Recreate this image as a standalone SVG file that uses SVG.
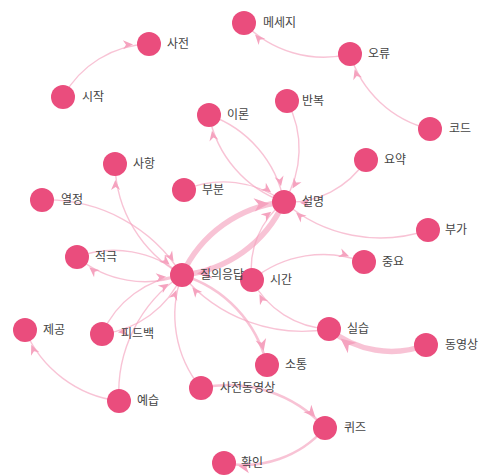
<svg xmlns="http://www.w3.org/2000/svg" width="484" height="476" viewBox="0 0 484 476">
  <style>
    .link { fill: none; stroke: #F4A3BE; stroke-opacity: 0.65; stroke-width: 1.4; marker-end: url(#arr); }
    .mid { stroke-width: 2.6; marker-end: url(#arrM); }
    .thick { stroke-width: 5.5; marker-end: url(#arrL); }
    .node circle { fill: #EA4D7D; r: 12px; }
    .node text { font-family: "Noto Sans CJK KR", "Noto Sans", sans-serif; font-size: 12px; fill: #444; }
  </style>
  <defs>
    <marker id="arr" viewBox="0 -5 10 10" refX="26" refY="0" markerWidth="10" markerHeight="10" markerUnits="userSpaceOnUse" orient="auto" overflow="visible">
      <path d="M0,-4.5 L10,0 L0,4.5 L3,0 Z" fill="#F5A3BF"/>
    </marker>
    <marker id="arrM" viewBox="0 -5 10 10" refX="22" refY="0" markerWidth="12" markerHeight="12" markerUnits="userSpaceOnUse" orient="auto" overflow="visible">
      <path d="M0,-4.5 L10,0 L0,4.5 L3,0 Z" fill="#F5A3BF"/>
    </marker>
    <marker id="arrL" viewBox="0 -5 10 10" refX="20" refY="0" markerWidth="15" markerHeight="15" markerUnits="userSpaceOnUse" orient="auto" overflow="visible">
      <path d="M0,-4.5 L10,0 L0,4.5 L3,0 Z" fill="#F5A3BF"/>
    </marker>
  </defs>

  <!-- connectors: arcs drawn centre to centre, radius = chord length -->
  <g id="links">
    <path class="link" d="M63,97 A101,101 0 0,1 149,44"/>
    <path class="link" d="M350,54 A110,110 0 0,1 244,23"/>
    <path class="link" d="M430,129 A110,110 0 0,1 350,54"/>
    <path class="link" d="M209,115 A115,115 0 0,1 284,202"/>
    <path class="link" d="M284,202 A115,115 0 0,1 209,115"/>
    <path class="link" d="M287,101 A101,101 0 0,1 284,202"/>
    <path class="link" d="M184,190 A101,101 0 0,1 284,202"/>
    <path class="link" d="M366,160 A92,92 0 0,1 284,202"/>
    <path class="link" d="M428,230 A147,147 0 0,1 284,202"/>
    <path class="link thick" d="M182,275 A125,125 0 0,1 284,202"/>
    <path class="link thick" d="M284,202 A125,125 0 0,1 182,275"/>
    <path class="link" d="M252,280 A84,84 0 0,1 284,202"/>
    <path class="link" d="M252,280 A113,113 0 0,1 364,262"/>
    <path class="link" d="M329,329 A91,91 0 0,1 252,280"/>
    <path class="link" d="M329,329 A157,157 0 0,1 182,275"/>
    <path class="link thick" d="M426,345 A98,98 0 0,1 329,329"/>
    <path class="link mid" d="M182,275 A124,124 0 0,1 267,365"/>
    <path class="link" d="M201,388 A115,115 0 0,1 182,275"/>
    <path class="link" d="M119,401 A141,141 0 0,1 182,275"/>
    <path class="link" d="M102,334 A99,99 0 0,1 182,275"/>
    <path class="link" d="M182,275 A99,99 0 0,1 102,334"/>
    <path class="link" d="M119,401 A118,118 0 0,1 25,330"/>
    <path class="link mid" d="M201,388 A130,130 0 0,1 325,428"/>
    <path class="link mid" d="M325,428 A107,107 0 0,1 224,463"/>
    <path class="link" d="M42,200 A159,159 0 0,1 182,275"/>
    <path class="link" d="M182,275 A130,130 0 0,1 115,164"/>
    <path class="link" d="M77,257 A106,106 0 0,1 182,275"/>
    <path class="link" d="M182,275 A106,106 0 0,1 77,257"/>
  </g>

  <g id="node-sajeon" class="node"><circle cx="149" cy="44"/><text x="167" y="48">사전</text></g>
  <g id="node-sijak" class="node"><circle cx="63" cy="97"/><text x="82" y="101">시작</text></g>
  <g id="node-mesaeji" class="node"><circle cx="244" cy="23"/><text x="263" y="27">메세지</text></g>
  <g id="node-oryu" class="node"><circle cx="350" cy="54"/><text x="368" y="58">오류</text></g>
  <g id="node-kodeu" class="node"><circle cx="430" cy="129"/><text x="449" y="133">코드</text></g>
  <g id="node-banbok" class="node"><circle cx="287" cy="101"/><text x="302" y="105">반복</text></g>
  <g id="node-iron" class="node"><circle cx="209" cy="115"/><text x="227" y="119">이론</text></g>
  <g id="node-yoyak" class="node"><circle cx="366" cy="160"/><text x="384" y="164">요약</text></g>
  <g id="node-sahang" class="node"><circle cx="115" cy="164"/><text x="133" y="168">사항</text></g>
  <g id="node-bubun" class="node"><circle cx="184" cy="190"/><text x="202" y="194">부분</text></g>
  <g id="node-yeoljeong" class="node"><circle cx="42" cy="200"/><text x="61" y="204">열정</text></g>
  <g id="node-seolmyeong" class="node"><circle cx="284" cy="202"/><text x="302" y="206">설명</text></g>
  <g id="node-buga" class="node"><circle cx="428" cy="230"/><text x="445" y="234">부가</text></g>
  <g id="node-jeokgeuk" class="node"><circle cx="77" cy="257"/><text x="95" y="261">적극</text></g>
  <g id="node-jungyo" class="node"><circle cx="364" cy="262"/><text x="382" y="266">중요</text></g>
  <g id="node-sigan" class="node"><circle cx="252" cy="280"/><text x="270" y="284">시간</text></g>
  <g id="node-jiluieungdap" class="node"><circle cx="182" cy="275"/><text x="200" y="279">질의응답</text></g>
  <g id="node-jegong" class="node"><circle cx="25" cy="330"/><text x="43" y="334">제공</text></g>
  <g id="node-pideubaek" class="node"><circle cx="102" cy="334"/><text x="121" y="338">피드백</text></g>
  <g id="node-silseup" class="node"><circle cx="329" cy="329"/><text x="347" y="333">실습</text></g>
  <g id="node-dongyeongsang" class="node"><circle cx="426" cy="345"/><text x="445" y="349">동영상</text></g>
  <g id="node-sotong" class="node"><circle cx="267" cy="365"/><text x="285" y="369">소통</text></g>
  <g id="node-sajeondongyeongsang" class="node"><circle cx="201" cy="388"/><text x="220" y="392">사전동영상</text></g>
  <g id="node-yeseup" class="node"><circle cx="119" cy="401"/><text x="137" y="405">예습</text></g>
  <g id="node-kwijeu" class="node"><circle cx="325" cy="428"/><text x="344" y="432">퀴즈</text></g>
  <g id="node-hwagin" class="node"><circle cx="224" cy="463"/><text x="241" y="467">확인</text></g>
</svg>
